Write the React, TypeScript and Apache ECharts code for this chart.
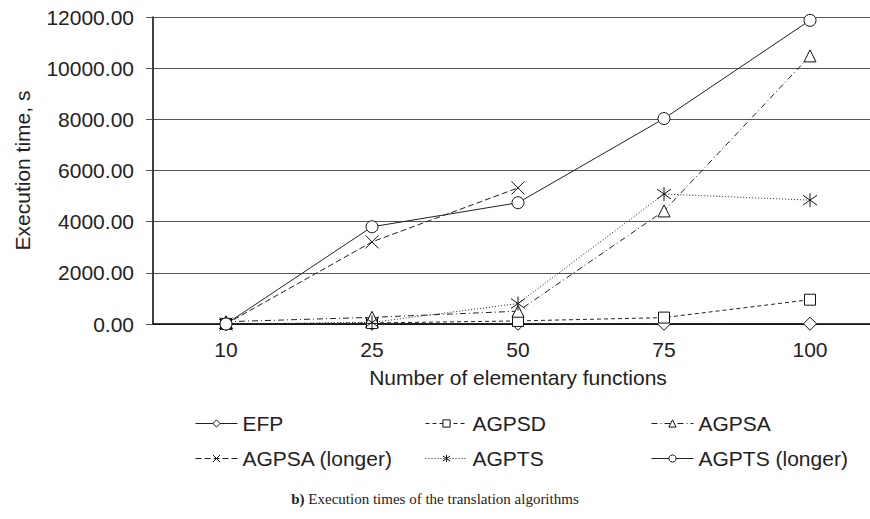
import React, { useEffect, useRef } from "react";
import * as echarts from "echarts";

const categories = ["10", "25", "50", "75", "100"];
const efp = [2, 5, 10, 8, 10];
const agpsd = [5, 40, 120, 250, 950];
const agpsa = [90, 260, 500, 4420, 10480];
const agpsaLonger = [0, 3210, 5320, null, null];
const agpts = [0, 60, 800, 5080, 4840];
const agptsLonger = [0, 3800, 4740, 8030, 11870];
const yTicks = { min: 0, max: 12000, interval: 2000 };

const FONT = "Liberation Sans, Arial, sans-serif";
const FS = 21;
const X_PATH = "path://M0 0L10 10M10 0L0 10";
const STAR_PATH = "path://M5 0L5 10M0.8 1.5L9.2 8.5M0.8 8.5L9.2 1.5";

export default function App() {
  const ref = useRef<HTMLDivElement>(null);
  useEffect(() => {
    document.body.style.margin = "0";
    const chart = echarts.init(ref.current!, null, { renderer: "svg" });
    const mk = (
      name: string,
      data: (number | null)[],
      symbol: string,
      symbolSize: number,
      dash: any,
      custom = false
    ) => ({
      name,
      type: "line",
      data,
      symbol,
      symbolSize,
      showSymbol: true,
      connectNulls: false,
      lineStyle: { color: "#222", width: 1, type: dash },
      itemStyle: custom
        ? { color: "rgba(0,0,0,0)", borderColor: "#111", borderWidth: 1 }
        : { color: "#fff", borderColor: "#111", borderWidth: 1 },
      emphasis: { disabled: true },
    });
    const series = [
      mk("EFP", efp, "diamond", 13, "solid"),
      mk("AGPSD", agpsd, "rect", 11, [4, 3]),
      mk("AGPSA", agpsa, "triangle", 12, [6, 3, 1, 3]),
      mk("AGPSA (longer)", agpsaLonger, X_PATH, 13, [6, 3], true),
      mk("AGPTS", agpts, STAR_PATH, 14, [1, 2], true),
      mk("AGPTS (longer)", agptsLonger, "circle", 12, "solid"),
    ];
    const legendPos = [
      { name: "EFP", left: 195, top: 413 },
      { name: "AGPSD", left: 425, top: 413 },
      { name: "AGPSA", left: 651, top: 413 },
      { name: "AGPSA (longer)", left: 195, top: 448 },
      { name: "AGPTS", left: 425, top: 448 },
      { name: "AGPTS (longer)", left: 651, top: 448 },
    ];
    chart.setOption({
      animation: false,
      backgroundColor: "#fff",
      grid: {
        left: 153,
        top: 17,
        width: 730,
        height: 307,
        containLabel: false,
        outerBoundsMode: "none",
      },
      legend: legendPos.map((l) => ({
        data: [l.name],
        left: l.left,
        top: l.top,
        padding: 0,
        itemWidth: 42,
        itemHeight: 9,
        selectedMode: false,
        lineStyle: { width: 1 },
        itemStyle: { borderWidth: 1 },
        textStyle: { fontFamily: FONT, fontSize: FS, color: "#222" },
      })),
      xAxis: {
        type: "category",
        data: categories,
        boundaryGap: true,
        name: "Number of elementary functions",
        nameLocation: "middle",
        nameGap: 43,
        nameTextStyle: { fontFamily: FONT, fontSize: FS, color: "#222" },
        axisLine: { lineStyle: { color: "#000", width: 1.5 } },
        axisTick: { alignWithLabel: true, length: 6, lineStyle: { color: "#555" } },
        axisLabel: { fontFamily: FONT, fontSize: FS, color: "#222", margin: 15 },
        splitLine: { show: false },
      },
      yAxis: {
        type: "value",
        min: yTicks.min,
        max: yTicks.max,
        interval: yTicks.interval,
        name: "Execution time, s",
        nameLocation: "middle",
        nameGap: 120,
        nameTextStyle: { fontFamily: FONT, fontSize: FS, color: "#222" },
        axisLine: { show: true, lineStyle: { color: "#000", width: 1.5 } },
        axisTick: { show: true, length: 7, lineStyle: { color: "#555" } },
        axisLabel: {
          fontFamily: FONT,
          fontSize: FS,
          color: "#222",
          margin: 19,
          formatter: (v: number) => v.toFixed(2),
        },
        splitLine: { show: true, lineStyle: { color: "#555", width: 1 } },
      },
      graphic: [
        {
          type: "text",
          left: "center",
          top: 491,
          style: {
            text: "{b|b)} Execution times of the translation algorithms",
            font: "15px 'Liberation Serif', 'Times New Roman', serif",
            fill: "#222",
            rich: {
              b: { fontWeight: "bold", fontSize: 15, fontFamily: "Liberation Serif", fill: "#222" },
            },
          },
        },
      ],
      series,
    });
    return () => chart.dispose();
  }, []);
  return <div ref={ref} style={{ width: 870, height: 519 }} />;
}
